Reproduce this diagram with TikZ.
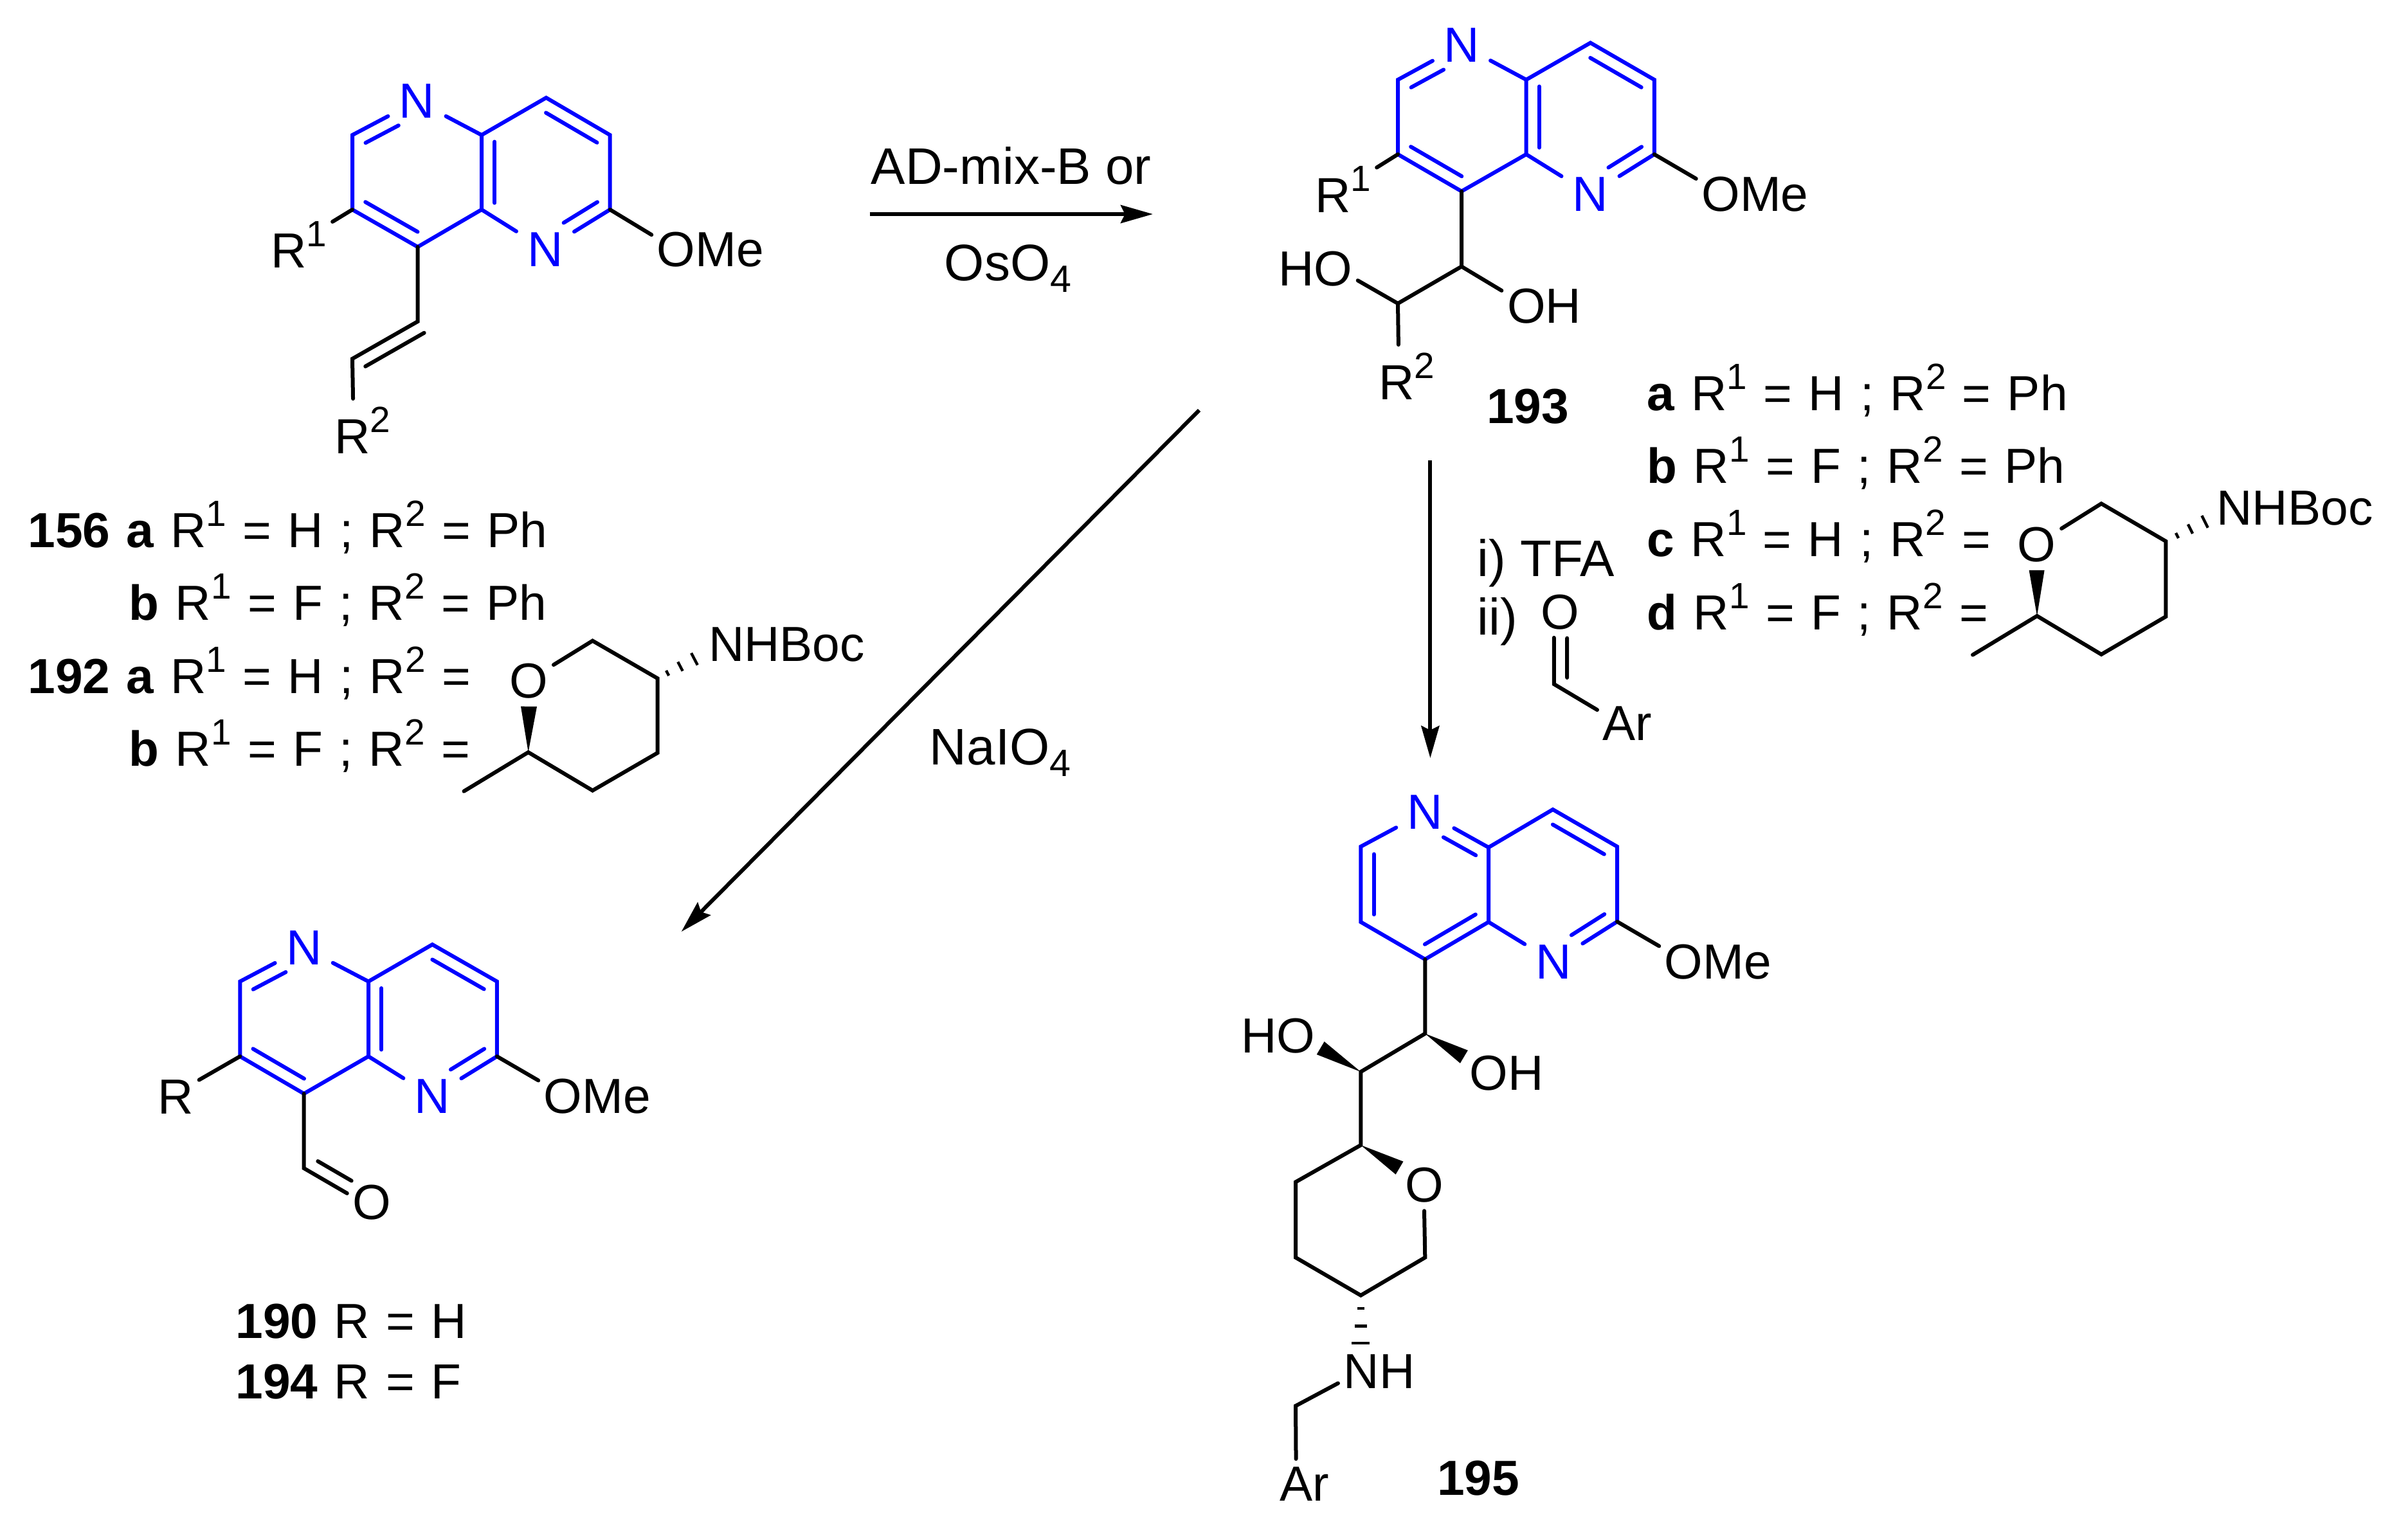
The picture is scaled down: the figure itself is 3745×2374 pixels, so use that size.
\documentclass[tikz,border=0pt]{standalone}
\usepackage{fontspec}
\setmainfont{Liberation Sans}
\usetikzlibrary{calc,arrows.meta}

\newcommand{\supn}[1]{\raisebox{.43em}{\scalebox{.74}{#1}}}
\newcommand{\subn}[1]{\raisebox{-.23em}{\scalebox{.74}{#1}}}
\newcommand{\substfont}{\fontsize{23}{27}\selectfont\setlength{\spaceskip}{.33em}}
% inner line of a double bond: from, to, side, start and end fraction
\newcommand{\innerline}[6][ringbond]{\draw[#1] ($(#2)!#5!(#3)!6.1pt!#4:(#3)$) -- ($(#2)!#6!(#3)!6.1pt!#4:(#3)$);}
\newcommand{\wedgebond}[3]{\fill ($(#2)!#3!90:(#1)$) -- ($(#2)!#3!-90:(#1)$) -- (#1) -- cycle;}
\newcommand{\hashbond}[3]{\foreach \f/\w in {#3} {\draw[hashmark] ($(#1)!\f!(#2)!\w!90:(#2)$) -- ($(#1)!\f!(#2)!\w!-90:(#2)$);}}

\definecolor{ringblue}{RGB}{0,0,255}
\tikzset{
  bond/.style={line width=1.8pt,line cap=round},
  ringbond/.style={bond,color=ringblue},
  hashmark/.style={line width=1.3pt},
  rxnarrow/.style={line width=1.8pt,-{Stealth[length=15pt,width=8.4pt,inset=2pt]}},
  atomn/.style={text=ringblue,inner xsep=5pt,inner ysep=5pt},
  lbl/.style={inner xsep=2.4pt,inner ysep=3.6pt},
  subst/.style={anchor=base west,inner sep=0pt,font=\substfont},
  cpd/.style={anchor=base,inner sep=0pt,font=\fontsize{23}{27}\selectfont\bfseries},
  reagent/.style={anchor=base,inner sep=0pt,font=\fontsize{24}{28}\selectfont},
}

\begin{document}
\begin{tikzpicture}[x=0.3pt,y=0.3pt,yscale=-1,xscale=1,every node/.style={font=\fontsize{23}{27}\selectfont}]
\useasboundingbox (0,0) rectangle (3745,2374);

%Shape: Naphthyridine 156
\coordinate (Aa) at (548,210);
\coordinate (Ab) at (548,326);
\coordinate (Ac) at (649.6,384);
\coordinate (Ad) at (749,326);
\coordinate (Ae) at (749,210);
\coordinate (Af) at (849.4,152);
\coordinate (Ag) at (948.7,210);
\coordinate (Ah) at (948.7,326);
\coordinate (Ai) at (649.6,500);
\coordinate (Aj) at (548,558);
\node[atomn] (An1) at (648.5,157) {N};
\node[atomn] (An2) at (848,388) {N};
\node[lbl] (Aome) at (1105,388) {OMe};
\node[lbl] (Ar1) at (465,380) {R\supn{1}};
\node[lbl] (Ar2) at (564,669) {R\supn{2}};
\draw[ringbond] (An1) -- (Aa) -- (Ab) -- (Ac) -- (Ad) -- (Ae) -- (Af) -- (Ag) -- (Ah) -- (An2) -- (Ad);
\draw[ringbond] (Ae) -- (An1);
\innerline{Aa}{An1}{90}{.11}{.62}
\innerline{Ab}{Ac}{-90}{.1}{.9}
\innerline{Ae}{Ad}{-90}{.09}{.91}
\innerline{Af}{Ag}{90}{.1}{.9}
\innerline{Ah}{An2}{90}{.09}{.61}
\draw[bond] (Ah) -- (Aome.166);
\draw[bond] (Ab) -- (Ar1.34);
\draw[bond] (Ac) -- (Ai) -- (Aj) -- (Ar2.107);
\innerline[bond]{Ai}{Aj}{-90}{0}{.9}

%Shape: Naphthyridine 193
\coordinate (Ba) at (2174,124);
\coordinate (Bb) at (2174,240);
\coordinate (Bc) at (2273,297.5);
\coordinate (Bd) at (2373.6,240);
\coordinate (Be) at (2373.6,124);
\coordinate (Bf) at (2473.5,66.6);
\coordinate (Bg) at (2572.8,124);
\coordinate (Bh) at (2572.8,240);
\coordinate (Bi) at (2273,414.5);
\coordinate (Bj) at (2174,472);
\node[atomn] (Bn1) at (2273,70) {N};
\node[atomn] (Bn2) at (2473.5,302) {N};
\node[lbl] (Bome) at (2729.5,302.5) {OMe};
\node[lbl] (Br1) at (2089,294.4) {R\supn{1}};
\node[lbl] (Br2) at (2188,585) {R\supn{2}};
\node[lbl] (Bho) at (2045.5,418.5) {HO};
\node[lbl] (Boh) at (2401.5,476) {OH};
\draw[ringbond] (Bn1) -- (Ba) -- (Bb) -- (Bc) -- (Bd) -- (Be) -- (Bf) -- (Bg) -- (Bh) -- (Bn2) -- (Bd);
\draw[ringbond] (Be) -- (Bn1);
\innerline{Ba}{Bn1}{90}{.11}{.62}
\innerline{Bb}{Bc}{-90}{.1}{.9}
\innerline{Be}{Bd}{-90}{.09}{.91}
\innerline{Bf}{Bg}{90}{.1}{.9}
\innerline{Bh}{Bn2}{90}{.09}{.61}
\draw[bond] (Bh) -- (Bome.165);
\draw[bond] (Bb) -- (Br1.33);
\draw[bond] (Bc) -- (Bi) -- (Bj) -- (Br2.105);
\draw[bond] (Bj) -- (Bho.345);
\draw[bond] (Bi) -- (Boh.160);

%Shape: Naphthyridine 190
\coordinate (Ca) at (373.3,1526.5);
\coordinate (Cb) at (373.3,1643);
\coordinate (Cc) at (472.7,1701);
\coordinate (Cd) at (573,1643);
\coordinate (Ce) at (573,1526.5);
\coordinate (Cf) at (672.4,1469);
\coordinate (Cg) at (772.9,1526.5);
\coordinate (Ch) at (772.9,1643);
\coordinate (Ci) at (472.7,1817);
\node[atomn] (Cn1) at (472.7,1474) {N};
\node[atomn] (Cn2) at (672.4,1705) {N};
\node[lbl] (Come) at (929,1705) {OMe};
\node[lbl] (Cr) at (273.3,1706) {R};
\node[lbl] (Co) at (578.3,1870) {O};
\draw[ringbond] (Cn1) -- (Ca) -- (Cb) -- (Cc) -- (Cd) -- (Ce) -- (Cf) -- (Cg) -- (Ch) -- (Cn2) -- (Cd);
\draw[ringbond] (Ce) -- (Cn1);
\innerline{Ca}{Cn1}{90}{.11}{.62}
\innerline{Cb}{Cc}{-90}{.1}{.9}
\innerline{Ce}{Cd}{-90}{.09}{.91}
\innerline{Cf}{Cg}{90}{.1}{.9}
\innerline{Ch}{Cn2}{90}{.09}{.61}
\draw[bond] (Ch) -- (Come.165);
\draw[bond] (Cb) -- (Cr.36);
\draw[bond] (Cc) -- (Ci) -- (Co.160);
\innerline[bond]{Ci}{Co.160}{-90}{.17}{.95}

%Shape: Naphthyridine 195
\coordinate (Da) at (2116.3,1316.7);
\coordinate (Db) at (2116.3,1434);
\coordinate (Dc) at (2216.3,1492);
\coordinate (Dd) at (2315,1434);
\coordinate (De) at (2315,1318);
\coordinate (Df) at (2415,1259);
\coordinate (Dg) at (2515,1316.7);
\coordinate (Dh) at (2515,1433.4);
\coordinate (Di) at (2216.3,1607.6);
\coordinate (Dj) at (2116.3,1667);
\coordinate (Dk) at (2116.3,1781);
\coordinate (Dl) at (2015,1838.4);
\coordinate (Dm) at (2015,1955.8);
\coordinate (Dq) at (2116.3,2014.7);
\coordinate (Dp) at (2216.3,1955.8);
\coordinate (Ds) at (2015,2186.6);
\coordinate (Dh2) at (2116.3,2100);
\node[atomn] (Dn1) at (2216.3,1263) {N};
\node[atomn] (Dn2) at (2416.3,1496) {N};
\node[lbl] (Dome) at (2672,1496) {OMe};
\node[lbl] (Dho) at (1987.5,1611) {HO};
\node[lbl] (Doh) at (2343,1669) {OH};
\node[lbl] (Do) at (2215,1843.5) {O};
\node[lbl] (Dnh) at (2145,2133) {NH};
\node[lbl] (Dar) at (2029,2308) {Ar};
\draw[ringbond] (Dn1) -- (Da) -- (Db) -- (Dc) -- (Dd) -- (De) -- (Df) -- (Dg) -- (Dh) -- (Dn2) -- (Dd);
\draw[ringbond] (De) -- (Dn1);
\innerline{Da}{Db}{-90}{.1}{.9}
\innerline{De}{Dn1}{-90}{.1}{.61}
\innerline{Dc}{Dd}{-90}{.1}{.9}
\innerline{Df}{Dg}{90}{.1}{.9}
\innerline{Dh}{Dn2}{90}{.09}{.61}
\draw[bond] (Dh) -- (Dome.165);
\draw[bond] (Dc) -- (Di) -- (Dj) -- (Dk) -- (Dl) -- (Dm) -- (Dq) -- (Dp) -- (Do.south);
\wedgebond{Dj}{Dho.344}{3.5pt}
\wedgebond{Di}{Doh.159}{3.5pt}
\wedgebond{Dk}{Do.145}{3.5pt}
\hashbond{Dq}{Dh2}{.24/1.65pt,.56/2.9pt,.87/4.2pt}
\draw[bond] (Dnh.196) -- (Ds) -- (Dar.109);

%Shape: Pyran of 192
\coordinate (Pq1) at (921.6,996.6);
\coordinate (Pq2) at (1022.5,1055);
\coordinate (Pq3) at (1022.5,1171);
\coordinate (Pq4) at (921.6,1229.5);
\coordinate (Pq5) at (821.6,1170);
\coordinate (Pme) at (721.5,1230.6);
\node[lbl] (Po) at (822.5,1059) {O};
\node[lbl] (Pnh) at (1223.5,1002) {NHBoc};
\draw[bond] (Po.33) -- (Pq1) -- (Pq2) -- (Pq3) -- (Pq4) -- (Pq5) -- (Pme);
\wedgebond{Pq5}{Po.south}{3.75pt}
\hashbond{Pq2}{Pnh.187}{.22/1.35pt,.5/2.4pt,.81/3.15pt}

%Shape: Pyran of 193
\coordinate (Qq1) at (3268,783.3);
\coordinate (Qq2) at (3368.3,841.8);
\coordinate (Qq3) at (3368.3,959);
\coordinate (Qq4) at (3268,1017.8);
\coordinate (Qq5) at (3168,958);
\coordinate (Qme) at (3068,1018.5);
\node[lbl] (Qo) at (3167.6,847) {O};
\node[lbl] (Qnh) at (3569,790.4) {NHBoc};
\draw[bond] (Qo.33) -- (Qq1) -- (Qq2) -- (Qq3) -- (Qq4) -- (Qq5) -- (Qme);
\wedgebond{Qq5}{Qo.south}{3.6pt}
\hashbond{Qq2}{Qnh.187}{.25/1.35pt,.54/2.4pt,.86/3.15pt}

%Shape: Aldehyde reagent
\coordinate (Rc) at (2416.8,1064);
\node[lbl] (Ro) at (2426,952) {O};
\node[lbl] (Rar) at (2531,1125) {Ar};
\draw[bond] (Ro.257) -- (Rc) -- (Rar.156);
\innerline[bond]{Rc}{Ro.257}{90}{.14}{.99}

%Straight Lines
\coordinate (s1) at (1352.6,333);
\coordinate (t1) at (1793,333);
\coordinate (s2) at (2224.4,716);
\coordinate (t2) at (2224.4,1179);
\coordinate (s3) at (1865,638);
\coordinate (t3) at (1059.7,1449);
\draw[rxnarrow] (s1) -- (t1);
\draw[rxnarrow] (s2) -- (t2);
\draw[rxnarrow] (s3) -- (t3);

% Text Node
\node[reagent] (ad) at (1572.6,286) {AD-mix-B or};
\node[reagent] (oso) at (1567.6,436) {OsO\subn{4}};
\node[reagent] (naio) at (1555.7,1189) {NaIO\subn{4}};
\node[reagent,anchor=base west] (tfa) at (2297,896) {i) TFA};
\node[reagent,anchor=base west] (ii) at (2297,987) {ii)};
% Text Node
\node[subst] (l156a) at (43,851) {\textbf{156 a} R\supn{1} = H ; R\supn{2} = Ph};
\node[subst] (l156b) at (200,964) {\textbf{b} R\supn{1} = F ; R\supn{2} = Ph};
\node[subst] (l192a) at (43,1078) {\textbf{192 a} R\supn{1} = H ; R\supn{2} =};
\node[subst] (l192b) at (200,1191) {\textbf{b} R\supn{1} = F ; R\supn{2} =};
% Text Node
\node[subst] (l193a) at (2561,638) {\textbf{a} R\supn{1} = H ; R\supn{2} = Ph};
\node[subst] (l193b) at (2561,751.6) {\textbf{b} R\supn{1} = F ; R\supn{2} = Ph};
\node[subst] (l193c) at (2561,865) {\textbf{c} R\supn{1} = H ; R\supn{2} =};
\node[subst] (l193d) at (2561,979) {\textbf{d} R\supn{1} = F ; R\supn{2} =};
% Text Node
\node[subst] (l190) at (366,2081) {\textbf{190} R = H};
\node[subst] (l194) at (366,2175) {\textbf{194} R = F};
\node[cpd] (c193) at (2376,658) {193};
\node[cpd] (c195) at (2299,2325) {195};
\end{tikzpicture}
\end{document}
